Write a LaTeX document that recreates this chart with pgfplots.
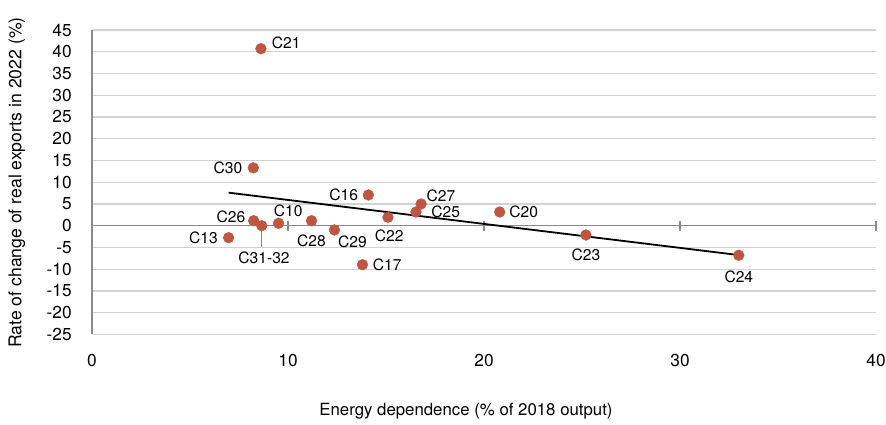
\documentclass[border=0pt]{standalone}
\usepackage{pgfplots}
\usepackage{pgfplotstable}
\pgfplotsset{compat=1.18}
\usepackage{fontspec}
\setmainfont{TeX Gyre Heros}
\definecolor{dotred}{HTML}{C0563F}
\definecolor{axgray}{HTML}{8A8A8A}
\definecolor{gridgray}{HTML}{D2D2D2}
\pgfplotstableread{
x y lab dx dy
6.97 -2.76 C13 -25.2 0
8.23 13.3 C30 -25.3 0
8.25 1.15 C26 -22.7 4
8.62 40.7 C21 25.3 5.4
8.66 0 C31-32 2.3 -31.7
9.52 0.55 C10 9.6 12.6
11.2 1.15 C28 0 -20
12.37 -0.99 C29 18 -11.7
13.8 -8.97 C17 24.8 0
14.1 7.06 C16 -24.7 0
15.1 1.93 C22 1.3 -18.7
16.53 3.15 C25 29.8 0
16.79 4.99 C27 19.8 8
20.8 3.15 C20 24 0
25.2 -2.14 C23 0 -20
33.0 -6.8 C24 0 -21.4
}\pts
\begin{document}
\begin{tikzpicture}[font=\fontsize{16}{19.2}\selectfont]
\useasboundingbox (0,0) rectangle (886pt,425pt);
\begin{axis}[
  at={(92pt,90.6pt)}, anchor=south west,
  scale only axis, width=784pt, height=304.4pt,
  xmin=0, xmax=40, ymin=-25, ymax=45,
  xtick={0,10,20,30,40}, ytick={-25,-20,...,45},
  axis x line=bottom, axis y line=left,
  x axis line style={draw=none},
  y axis line style={draw=axgray, line width=1.6pt, -},
  xtick style={draw=none}, ytick style={draw=none},
  ymajorgrids, grid style={gridgray, line width=1.2pt},
  /pgf/number format/assume math mode=true,
  tick label style={font=\fontsize{17.3}{20}\selectfont},
  xticklabel style={anchor=center, inner sep=0pt, yshift=-23.6pt},
  yticklabel style={anchor=east, inner sep=0pt, xshift=-18pt},
  xlabel={Energy dependence (\% of 2018 output)},
  ylabel={Rate of change of real exports in 2022 (\%)},
  xlabel style={at={(axis description cs:0.477,-0.252)}, anchor=center, inner sep=0pt, font=\fontsize{16.8}{20}\selectfont},
  ylabel style={at={(axis description cs:-0.096,0.499)}, anchor=center, rotate=0, inner sep=0pt, font=\fontsize{17.6}{20}\selectfont},
  clip=false,
]
\draw[axgray, line width=1.6pt] (axis cs:0,0) -- (axis cs:40,0);
\pgfplotsinvokeforeach{10,20,30,40}{
  \draw[axgray, line width=1.2pt] ([yshift=-5pt]axis cs:#1,0) -- ([yshift=5pt]axis cs:#1,0);
}
\addplot[axgray, line width=1.2pt, forget plot] coordinates {(8.66,-0.3) (8.66,-4.8)};
\addplot[black, line width=1.8pt] coordinates {(6.97,7.59) (32.9,-6.7)};
\addplot[color=dotred, only marks, mark=*, mark size=5.4pt, mark options={solid, fill=dotred, draw=none},
  point meta=explicit symbolic,
  visualization depends on={\thisrow{dx} \as \myDX},
  visualization depends on={\thisrow{dy} \as \myDY},
  nodes near coords,
  nodes near coords style={anchor=center, text=black, inner sep=0pt, xshift=\myDX, yshift=\myDY, font=\fontsize{15.6}{18}\selectfont},
] table[x=x, y=y, meta=lab] {\pts};
\end{axis}
\end{tikzpicture}
\end{document}
